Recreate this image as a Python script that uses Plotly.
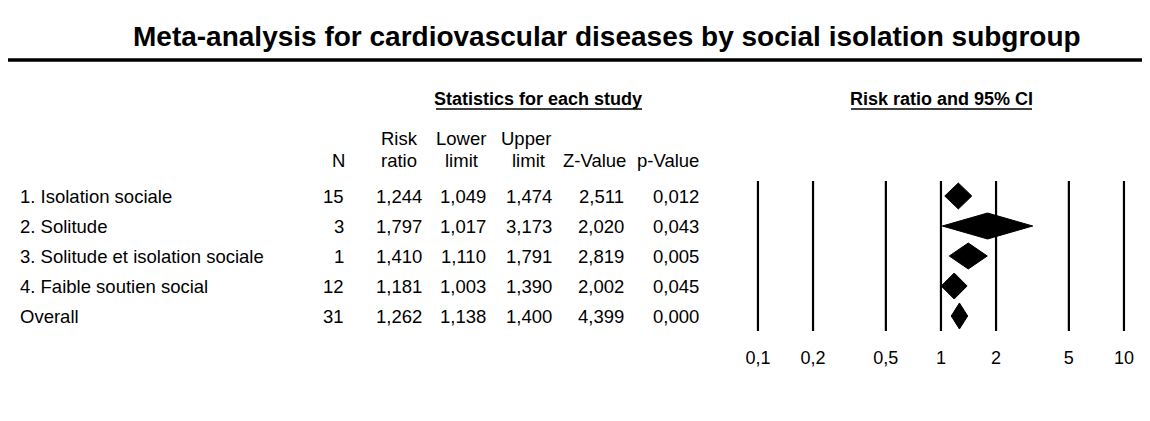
import plotly.graph_objects as go

# ---- data ----
groups = ["1. Isolation sociale", "2. Solitude", "3. Solitude et isolation sociale",
          "4. Faible soutien social", "Overall"]
n_studies = [15, 3, 1, 12, 31]
risk_ratio = [1.244, 1.797, 1.410, 1.181, 1.262]
lower_limit = [1.049, 1.017, 1.110, 1.003, 1.138]
upper_limit = [1.474, 3.173, 1.791, 1.390, 1.400]
z_value = [2.511, 2.020, 2.819, 2.002, 4.399]
p_value = [0.012, 0.043, 0.005, 0.045, 0.000]
tick_vals = [0.1, 0.2, 0.5, 1, 2, 5, 10]
tick_text = ["0,1", "0,2", "0,5", "1", "2", "5", "10"]

W, H = 1150, 421
FONT = "Liberation Sans, Arial, sans-serif"
FS = 18.5


def fmt(v):
    return f"{v:.3f}".replace(".", ",")


def py(pix):
    # pixel row from top -> y data units (30 px per row, row 0 at 188 px)
    return (pix - 188) / 30.0


def px(pix):
    return pix / W


fig = go.Figure()

# reference vertical lines of the forest plot
for tv in tick_vals:
    fig.add_trace(go.Scatter(x=[tv, tv], y=[-0.5, 4.5], mode="lines",
                             line=dict(color="black", width=2.2),
                             hoverinfo="skip", showlegend=False))

# diamonds
h = 13 / 30.0
for i in range(len(groups)):
    fig.add_trace(go.Scatter(
        x=[lower_limit[i], risk_ratio[i], upper_limit[i], risk_ratio[i], lower_limit[i]],
        y=[i, i - h, i, i + h, i],
        mode="lines", fill="toself", fillcolor="black",
        line=dict(color="black", width=1), showlegend=False,
        hoverinfo="skip"))

ann = []


def add(text, x, y, anchor="center", size=FS, bold=False):
    t = f"<b>{text}</b>" if bold else text
    ann.append(dict(text=t, x=px(x), y=py(y), xref="paper", yref="y",
                    xanchor=anchor, yanchor="middle", showarrow=False,
                    font=dict(family=FONT, size=size, color="black")))


# title
add("Meta-analysis for cardiovascular diseases by social isolation subgroup", 599, 28,
    size=28, bold=True)
add("Statistics for each study", 530, 91, size=18, bold=True)
add("Risk ratio and 95% CI", 933, 91, size=18, bold=True)

# headers
add("N", 339, 152, anchor="right")
add("Risk", 391, 130)
add("ratio", 391, 152)
add("Lower", 453, 130)
add("limit", 453, 152)
add("Upper", 518, 130)
add("limit", 520, 152)
add("Z-Value", 620, 152, anchor="right")
add("p-Value", 693, 152, anchor="right")

for i, g in enumerate(groups):
    yy = 188 + 30 * i
    add(g, 10, yy, anchor="left")
    add(str(n_studies[i]), 338, yy, anchor="right")
    add(fmt(risk_ratio[i]), 416, yy, anchor="right")
    add(fmt(lower_limit[i]), 480, yy, anchor="right")
    add(fmt(upper_limit[i]), 546, yy, anchor="right")
    add(fmt(z_value[i]), 618, yy, anchor="right")
    add(fmt(p_value[i]), 693, yy, anchor="right")

shapes = [
    dict(type="line", xref="paper", yref="y", x0=0, x1=1, y0=py(52), y1=py(52),
         line=dict(color="black", width=3.5)),
    dict(type="line", xref="paper", yref="y", x0=px(428), x1=px(634), y0=py(101), y1=py(101),
         line=dict(color="black", width=1.5)),
    dict(type="line", xref="paper", yref="y", x0=px(843), x1=px(1024), y0=py(101), y1=py(101),
         line=dict(color="black", width=1.5)),
]

fig.update_layout(
    width=W, height=H,
    margin=dict(l=0, r=0, t=0, b=0),
    paper_bgcolor="white", plot_bgcolor="white",
    annotations=ann, shapes=shapes,
    xaxis=dict(type="log", range=[-5.098, 1.186], domain=[0, 1],
               showgrid=False, zeroline=False, showline=False, ticks="",
               tickvals=tick_vals, ticktext=tick_text,
               tickfont=dict(family=FONT, size=18, color="black"),
               anchor="free", position=1 - 337 / H, fixedrange=True),
    yaxis=dict(range=[py(H), py(0)], domain=[0, 1], visible=False, fixedrange=True),
    font=dict(family=FONT),
)

fig.write_html("out.html")
